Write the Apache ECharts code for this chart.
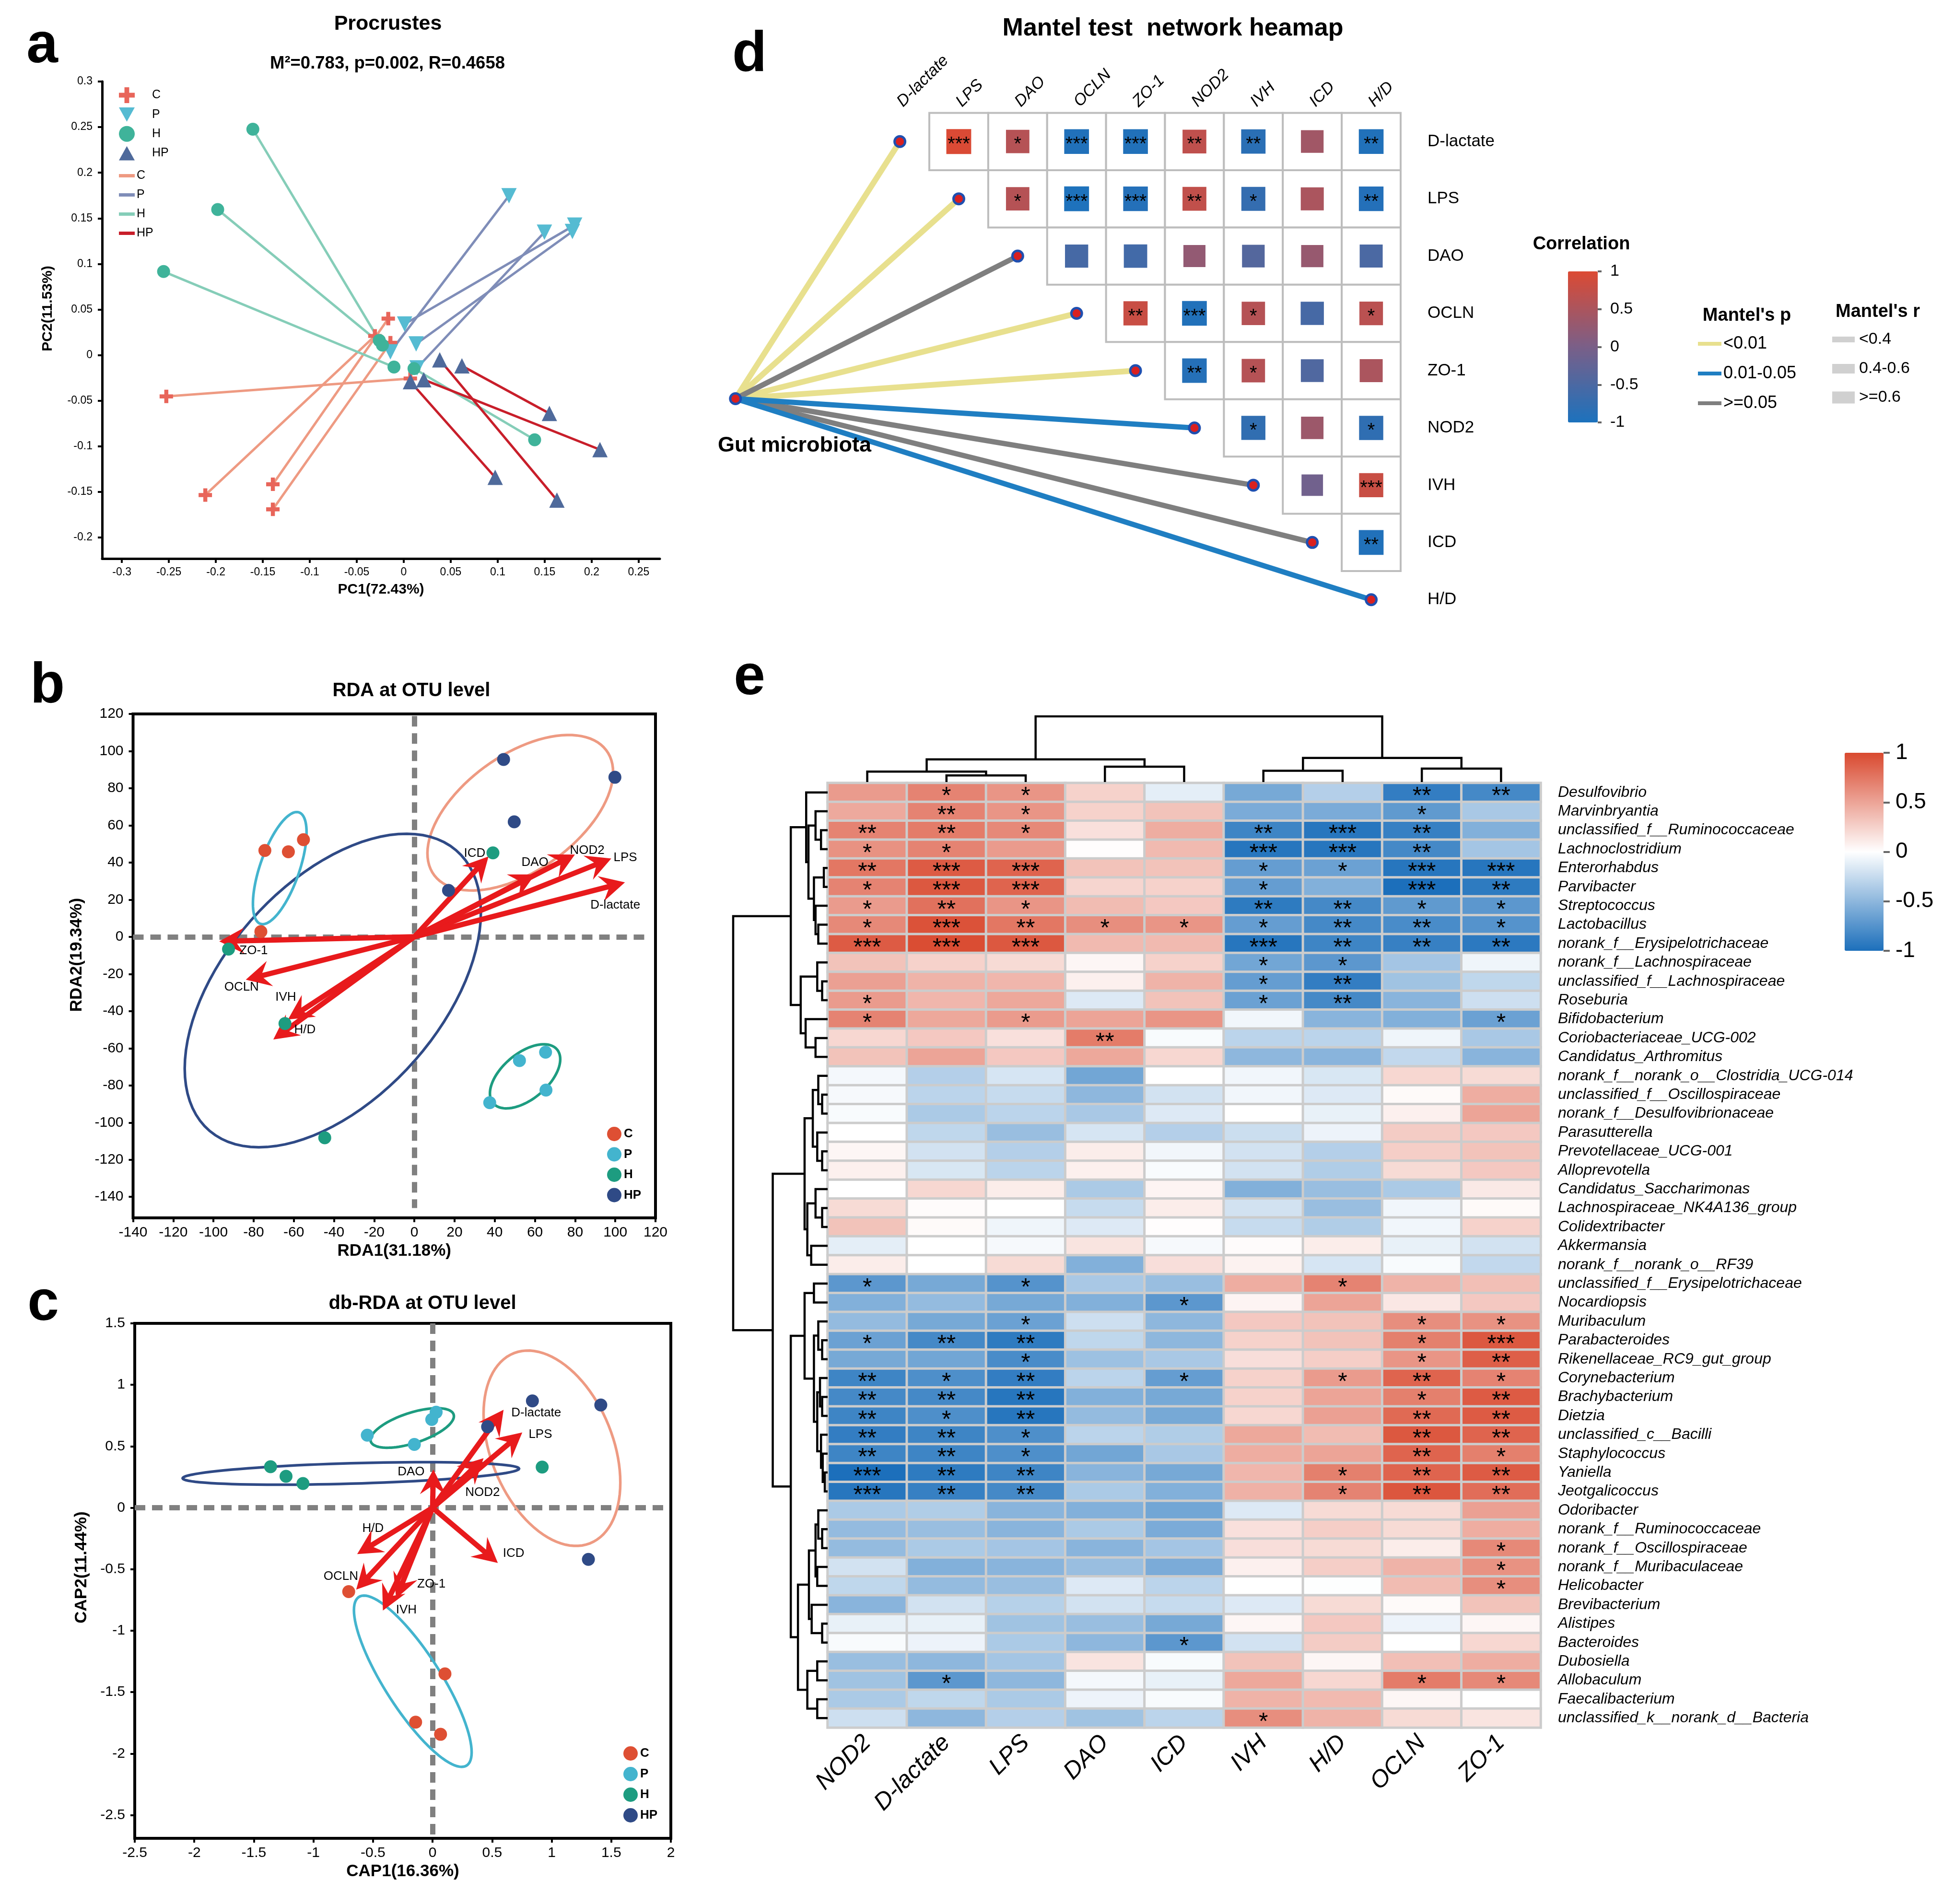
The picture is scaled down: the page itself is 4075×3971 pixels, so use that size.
<!DOCTYPE html>
<html><head><meta charset="utf-8">
<style>html,body{margin:0;padding:0;background:#fff}#c{width:4075px;height:3971px}</style>
<script src="https://cdn.jsdelivr.net/npm/echarts@6/dist/echarts.min.js"></script>
</head><body><div id="c"></div>
<script>
// ---------- Panel a: Procrustes ----------
const procCFar=[[-0.2527,-0.0453],[-0.2112,-0.1535],[-0.1393,-0.1417],[-0.1393,-0.1692]];
const procCNear=[[0.007,-0.0257],[-0.0307,0.021],[-0.0165,0.040],[-0.0142,0.0135]];
const procPFar=[[0.112,0.1747],[0.1497,0.1347],[0.1819,0.1425],[0.1795,0.1355]];
const procPNear=[[-0.0142,0.0035],[0.0142,-0.014],[0.0009,0.034],[0.0132,0.0122]];
const procHFar=[[-0.1606,0.2477],[-0.198,0.1596],[-0.2556,0.0916],[0.1393,-0.0929]];
const procHNear=[[-0.026,0.016],[-0.0227,0.0109],[-0.0104,-0.0131],[0.0109,-0.0148]];
const procHPFar=[[0.155,-0.064],[0.2088,-0.1037],[0.0973,-0.1341],[0.163,-0.159]];
const procHPNear=[[0.0619,-0.0118],[0.0213,-0.027],[0.0071,-0.0292],[0.0383,-0.0052]];
const procXTicks=[-0.3,-0.25,-0.2,-0.15,-0.1,-0.05,0,0.05,0.1,0.15,0.2,0.25];
const procYTicks=[-0.2,-0.15,-0.1,-0.05,0,0.05,0.1,0.15,0.2,0.25,0.3];
// ---------- Panel b: RDA ----------
const envNames=['D-lactate','LPS','DAO','OCLN','ZO-1','NOD2','IVH','ICD','H/D'];
const rdaC=[[-74.4,46.5],[-62.7,45.8],[-55.2,52.3],[-76.4,2.8]];
const rdaP=[[65.3,-62.1],[52.3,-66.6],[65.5,-82.5],[37.5,-89.3]];
const rdaH=[[39.1,45.2],[-92.5,-6.6],[-64.4,-46.7],[-44.6,-108.2]];
const rdaHP=[[44.4,95.5],[99.8,85.9],[49.7,61.9],[17,25]];
const rdaArrows=[[104.8,29.3],[98,42.2],[60,33.6],[-83.9,-23.1],[-97.1,-2.4],[79.9,44.3],[-62.9,-44.5],[36.9,43.3],[-70.2,-55.3]];
const rdaLabels=[[100,17],[105,42.5],[60,40],[-86,-27],[-80,-7.5],[86,46.5],[-64,-32.5],[30,45],[-54.5,-50]];
const rdaEllipses=[[52.7,66.8,41.5,35.3,-20.3,22.5],[-40.6,-28.9,73.7,42,0,-73.2],[-67,37,13.35,19.2,0,-23.3],[55.1,-75.1,17.5,9.2,0,-14.6]];
const rdaAxisLines=[[[-140,0],[115,0]],[[0,118.9],[0,-146]]];
const rdaTicks=[-140,-120,-100,-80,-60,-40,-20,0,20,40,60,80,100,120];
// ---------- Panel c: db-RDA ----------
const capC=[[-0.704,-0.682],[0.104,-1.351],[-0.142,-1.744],[0.067,-1.843]];
const capP=[[0.03,0.777],[-0.007,0.718],[-0.548,0.59],[-0.153,0.515]];
const capH=[[-1.36,0.334],[-1.23,0.256],[-1.088,0.197],[0.92,0.331]];
const capHP=[[0.838,0.869],[1.412,0.836],[0.462,0.659],[1.308,-0.42]];
const capArrows=[[0.596,0.797],[0.753,0.613],[0.007,0.311],[-0.641,-0.666],[-0.306,-0.738],[0.428,0.403],[-0.417,-0.836],[0.548,-0.449],[-0.633,-0.377]];
const capLabels=[[0.87,0.77],[0.905,0.595],[-0.18,0.29],[-0.77,-0.56],[-0.01,-0.62],[0.42,0.125],[-0.22,-0.83],[0.68,-0.37],[-0.5,-0.17]];
const capEllipses=[[1.002,0.484,0.574,-0.279,0,-0.744],[-0.686,0.279,1.412,0.039,0,-0.083],[-0.166,-1.411,0.494,-0.578,0,-0.389],[-0.171,0.649,0.35,0.096,0,-0.129]];
const capAxisLines=[[[-2.5,0],[1.956,0]],[[0,1.5],[0,-2.68]]];
const capXTicks=[-2.5,-2,-1.5,-1,-0.5,0,0.5,1,1.5,2];
const capYTicks=[-2.5,-2,-1.5,-1,-0.5,0,0.5,1,1.5];
// ---------- Panel d: Mantel ----------
const mantelValues=[
 [.98,.6,-.95,-.95,.7,-.85,.4,-.95],
 [.6,-.98,-.92,.72,-.75,.5,-.92],
 [-.55,-.6,.25,-.4,.3,-.5],
 [.8,-.95,.6,-.55,.65],
 [-.9,.6,-.45,.5],
 [-.78,.35,-.8],
 [-.1,.8],
 [-.95]];
const mantelStars=[['***','*','***','***','**','**','','**'],['*','***','***','**','*','','**'],['','','','','',''],['**','***','*','','*'],['**','*','',''],['*','','*'],['','***'],['**']];
const mantelRoot=[-2.79,4.49];
const linkYellow=['D-lactate','LPS','OCLN','ZO-1'];
const linkBlue=['NOD2','H/D'];
const linkGray=['DAO','IVH','ICD'];
const colorTicks=[-1,-0.5,0,0.5,1];
// ---------- Panel e: heatmap ----------
const heatCols=['NOD2','D-lactate','LPS','DAO','ICD','IVH','H/D','OCLN','ZO-1'];
const taxa=['Desulfovibrio','Marvinbryantia','unclassified_f__Ruminococcaceae','Lachnoclostridium','Enterorhabdus','Parvibacter','Streptococcus','Lactobacillus','norank_f__Erysipelotrichaceae','norank_f__Lachnospiraceae','unclassified_f__Lachnospiraceae','Roseburia','Bifidobacterium','Coriobacteriaceae_UCG-002','Candidatus_Arthromitus','norank_f__norank_o__Clostridia_UCG-014','unclassified_f__Oscillospiraceae','norank_f__Desulfovibrionaceae','Parasutterella','Prevotellaceae_UCG-001','Alloprevotella','Candidatus_Saccharimonas','Lachnospiraceae_NK4A136_group','Colidextribacter','Akkermansia','norank_f__norank_o__RF39','unclassified_f__Erysipelotrichaceae','Nocardiopsis','Muribaculum','Parabacteroides','Rikenellaceae_RC9_gut_group','Corynebacterium','Brachybacterium','Dietzia','unclassified_c__Bacilli','Staphylococcus','Yaniella','Jeotgalicoccus','Odoribacter','norank_f__Ruminococcaceae','norank_f__Oscillospiraceae','norank_f__Muribaculaceae','Helicobacter','Brevibacterium','Alistipes','Bacteroides','Dubosiella','Allobaculum','Faecalibacterium','unclassified_k__norank_d__Bacteria'];
const heatValues=[
[.55,.68,.58,.25,-.12,-.6,-.33,-.9,-.82],
[.47,.68,.58,.25,.33,-.58,-.58,-.7,-.38],
[.68,.72,.65,.17,.45,-.85,-.95,-.88,-.55],
[.6,.68,.55,.01,.38,-.95,-.95,-.82,-.4],
[.75,.9,.85,.33,.33,-.68,-.65,-.95,-.95],
[.68,.92,.85,.23,.25,-.68,-.55,-1,-.92],
[.55,.78,.58,.37,.3,-.92,-.82,-.7,-.72],
[.65,.95,.75,.62,.58,-.68,-.82,-.8,-.75],
[.9,.98,.92,.38,.38,-.95,-.85,-.88,-.93],
[.33,.25,.2,.05,.25,-.62,-.72,-.4,-.07],
[.52,.42,.4,.08,.42,-.68,-.9,-.42,-.28],
[.55,.4,.48,-.15,.33,-.65,-.82,-.52,-.22],
[.68,.48,.55,.5,.58,-.06,-.52,-.55,-.65],
[.22,.3,.17,.72,-.03,-.3,-.3,-.07,-.38],
[.33,.5,.3,.48,.22,-.5,-.52,-.27,-.52],
[-.05,-.33,-.18,-.62,0,-.06,-.17,.22,.2],
[-.04,-.3,-.25,-.5,-.2,-.06,-.15,.03,.45],
[-.03,-.37,-.3,-.38,-.15,0,-.1,.08,.5],
[0,-.28,-.45,-.18,-.33,-.23,-.08,.28,.3],
[.05,-.2,-.33,.1,-.06,-.2,-.33,.27,.33],
[.08,-.17,-.3,.08,-.03,-.2,-.35,.2,.3],
[0,.22,.1,-.37,.06,-.55,-.45,-.37,.12],
[.2,.02,0,-.25,.1,-.2,-.45,-.06,.03],
[.33,.03,-.07,-.15,.01,-.25,-.35,-.06,.25],
[-.12,0,-.04,.15,-.04,.02,.1,-.1,-.2],
[.1,0,.2,-.55,.18,.07,-.18,-.03,-.27],
[-.72,-.6,-.75,-.38,-.45,.45,.68,.42,.35],
[-.55,-.47,-.6,-.55,-.72,.06,.5,.13,.3],
[-.47,-.6,-.65,-.22,-.5,.3,.33,.62,.6],
[-.65,-.82,-.92,-.28,-.5,.25,.33,.7,.92],
[-.6,-.62,-.8,-.43,-.38,.18,.27,.58,.88],
[-.85,-.78,-.9,-.3,-.68,.25,.55,.85,.68],
[-.82,-.82,-.95,-.55,-.6,.25,.5,.7,.9],
[-.85,-.78,-.95,-.47,-.6,.22,.52,.82,.9],
[-.9,-.85,-.78,-.3,-.35,.48,.37,.92,.85],
[-.85,-.85,-.78,-.62,-.38,.45,.5,.85,.7],
[-1,-.92,-.85,-.52,-.6,.4,.7,.85,.9],
[-.95,-.88,-.82,-.37,-.55,.43,.68,.93,.8],
[-.37,-.35,-.52,-.55,-.62,-.15,.2,.2,.52],
[-.47,-.45,-.52,-.37,-.58,.17,.27,.2,.45],
[-.47,-.37,-.4,-.52,-.4,.18,.2,.1,.65],
[-.2,-.55,-.52,-.45,-.58,.08,.27,.42,.6],
[-.28,-.47,-.45,-.15,-.3,0,-.01,.37,.62],
[-.52,-.2,-.32,-.2,-.25,-.15,.2,.03,.33],
[-.1,-.1,-.42,-.45,-.6,.05,.3,-.08,.05],
[-.03,-.08,-.37,-.5,-.72,-.2,.28,0,.22],
[-.45,-.5,-.4,.15,-.03,.33,.05,.35,.45],
[-.42,-.72,-.5,-.05,-.1,.48,.22,.72,.65],
[-.37,-.28,-.37,-.08,-.03,.42,.38,.05,0],
[-.22,-.5,-.33,-.42,-.3,.62,.42,.2,.15]];
const heatStars=['011000022','021000010','221002320','110003320','233001133','133001032','121002211','132111221','333003222','000001100','000001200','100001200','101000001','000200000','000000000','000000000','000000000','000000000','000000000','000000000','000000000','000000000','000000000','000000000','000000000','000000000','101000100','000010000','001000011','122000013','001000012','212010121','222000012','212000022','221000022','221000021','322000122','322000122','000000000','000000000','000000001','000000001','000000001','000000000','000000000','000010000','000000000','010000011','000000000','000001000'];
// Dendrograms: [height, left, right]; leaves are column / row indices
const colTree=[1,[.344,[.158,0,[.1,1,2]],[.233,3,4]],[.367,[.172,5,6],[.205,7,8]]];
const rowTreeA=[.39,[.227,0,[.203,[.128,1,[.07,2,3]],[.145,[.04,4,5],[.128,6,[.099,7,8]]]]],[.285,[.11,9,[.058,10,11]],[.233,12,[.128,13,14]]]];
const rowTreeB1=[.244,[.157,[.099,15,[.058,16,17]],[.11,18,[.058,19,20]]],[.215,[.128,21,[.058,22,23]],[.174,24,25]]];
const rowTreeB2=[.39,[.244,[.145,26,27],[.145,[.099,28,[.058,29,30]],[.11,[.081,31,[.058,32,33]],[.07,34,[.052,35,[.03,36,37]]]]]],[.314,[.198,[.128,[.099,38,[.058,39,40]],[.11,41,42]],[.169,43,[.058,44,45]]],[.215,[.11,46,47],[.11,48,49]]]];
const rowTree=[1,rowTreeA,[.581,rowTreeB1,rowTreeB2]];

// ---------- styling ----------
const FONT='"Liberation Sans",Arial,sans-serif';
const col={C:'#DE4F33',P:'#43B4CE',H:'#1D9C80',HP:'#2F4A86',salmon:'#EE9A82',red:'#E81A1C'};
const SYM_CROSS='path://M35 0H65V35H100V65H65V100H35V65H0V35H35Z';
const SYM_DOWN='path://M0 0H100L50 90Z';
const SYM_UP='path://M50 0L100 90H0Z';

function txt(text,x,y,size,opt={}){return {type:'text',x,y,z:50,rotation:opt.rotation||0,style:{text,fill:'#000',
  font:`${opt.italic?'italic ':''}${opt.bold?'bold ':''}${size}px ${FONT}`,
  align:opt.align||'center',verticalAlign:'middle',textAlign:opt.align||'center',textVerticalAlign:'middle'}};}
function valAxis(gridIndex,min,max,ticks,o={}){
  return Object.assign({type:'value',gridIndex,min,max,splitLine:{show:false},
    axisLine:{show:o.line!==false,onZero:false,lineStyle:{color:o.lineColor||'#000',width:o.lw||5}},
    axisTick:{show:o.tick!==false,inside:false,length:o.tl||9,customValues:ticks,lineStyle:{color:o.tickColor||'#000',width:o.tw||4}},
    axisLabel:{show:o.label!==false,customValues:ticks,margin:o.margin||18,fontSize:o.fs||30,color:'#000',fontFamily:FONT,
      rotate:o.rotate||0,fontStyle:o.italic?'italic':'normal',formatter:o.fmt||(v=>String(v))}},o.extra||{});
}
const nameStyle=(fs,pad)=>({fontWeight:'bold',fontSize:fs,color:'#000',fontFamily:FONT,padding:pad||0});
function hidden(gridIndex,min,max,extra){return Object.assign({type:'value',gridIndex,min,max,show:false,splitLine:{show:false}},extra||{});}

const grids=[
 {left:213,top:170,width:1163,height:995},
 {left:277.5,top:1489,width:1089.5,height:1051,show:true,borderColor:'#000',borderWidth:6},
 {left:281,top:2760,width:1118,height:1074,show:true,borderColor:'#000',borderWidth:6},
 {left:1508,top:235.5,width:1413,height:1075},
 {left:3270,top:566,width:62,height:315},
 {left:1726,top:1633,width:1487,height:1970},
 {left:1726,top:1494,width:1487,height:137},
 {left:1529,top:1633,width:197,height:1970},
 {left:3847,top:1570,width:81,height:413}
];
const xAxes=[
 valAxis(0,-0.321,0.2725,procXTicks,{fs:23,margin:17,extra:{name:'PC1(72.43%)',nameLocation:'middle',nameGap:50,nameTextStyle:nameStyle(30)}}),
 valAxis(1,-140,120,rdaTicks,{fs:30,margin:16,extra:{name:'RDA1(31.18%)',nameLocation:'middle',nameGap:52,nameTextStyle:nameStyle(35)}}),
 valAxis(2,-2.5,2,capXTicks,{fs:30,margin:16,extra:{name:'CAP1(16.36%)',nameLocation:'middle',nameGap:52,nameTextStyle:nameStyle(35)}}),
 valAxis(3,-3,8.5,[0,1,2,3,4,5,6,7,8],{line:false,tick:false,fs:34,rotate:-45,margin:18,italic:true,fmt:v=>envNames[v],extra:{position:'top'}}),
 hidden(4,0,1),
 {type:'category',gridIndex:5,data:heatCols,axisLine:{show:false},axisTick:{show:false},splitLine:{show:false},
   axisLabel:{interval:0,rotate:45,margin:24,fontSize:50,fontStyle:'italic',color:'#000',fontFamily:FONT}},
 hidden(6,-0.5,8.5),
 hidden(7,0,1,{inverse:true}),
 hidden(8,0,1)
];
const yAxes=[
 valAxis(0,-0.2232,0.3,procYTicks,{fs:23,margin:20,extra:{name:'PC2(11.53%)',nameLocation:'middle',nameGap:98,nameTextStyle:nameStyle(30,[0,0,0,48])}}),
 valAxis(1,-151.3,120,rdaTicks,{fs:30,margin:20,extra:{name:'RDA2(19.34%)',nameLocation:'middle',nameGap:100,nameTextStyle:nameStyle(35,[0,0,0,46])}}),
 valAxis(2,-2.689,1.5,capYTicks,{fs:30,margin:20,fmt:v=>String(v),extra:{name:'CAP2(11.44%)',nameLocation:'middle',nameGap:93,nameTextStyle:nameStyle(35,[0,0,0,56])}}),
 valAxis(3,-0.5,8.5,[0,1,2,3,4,5,6,7,8],{line:false,tick:false,fs:35,margin:56,fmt:v=>envNames[v],extra:{inverse:true,position:'right'}}),
 valAxis(4,-1,1,colorTicks,{line:false,fs:34,margin:26,tl:8,tw:4,tickColor:'#666',extra:{position:'right'}}),
 {type:'category',gridIndex:5,data:taxa,inverse:true,position:'right',axisLine:{show:false},axisTick:{show:false},splitLine:{show:false},
   axisLabel:{interval:0,margin:36,fontSize:32,fontStyle:'italic',color:'#000',fontFamily:FONT}},
 hidden(6,0,1),
 hidden(7,-0.5,49.5,{inverse:true}),
 valAxis(8,-1,1,colorTicks,{line:false,fs:46,margin:25,tl:13,tw:4,tickColor:'#666',extra:{position:'right'}})
];

const series=[];
const onGrid=i=>({xAxisIndex:i,yAxisIndex:i});
function scatter(name,data,color,size,symbol,i,extra){series.push(Object.assign({type:'scatter',name,data,symbol:symbol||'circle',symbolSize:size,itemStyle:{color,opacity:1},silent:true},onGrid(i),extra||{}));}
function segs(name,pairs,color,width,i,dash){series.push(Object.assign({type:'lines',name,coordinateSystem:'cartesian2d',polyline:false,silent:true,
   data:pairs.map(c=>({coords:c})),lineStyle:{color,width,opacity:1,curveness:0,type:dash||'solid',cap:'butt'},symbol:'none'},onGrid(i)));}
const pairUp=(a,b)=>a.map((p,k)=>[p,b[k]]);

// Panel a
scatter('C',procCFar.concat(procCNear),'#E8655A',28,SYM_CROSS,0);
scatter('P',procPFar.concat(procPNear),'#55BBD2',32,SYM_DOWN,0);
scatter('H',procHFar.concat(procHNear),'#3FB39A',27,'circle',0);
scatter('HP',procHPFar.concat(procHPNear),'#4F6A9B',32,SYM_UP,0);
segs('C ',pairUp(procCFar,procCNear),'#EE9A82',5,0);
segs('P ',pairUp(procPFar,procPNear),'#7F8DB8',5,0);
segs('H ',pairUp(procHFar,procHNear),'#85CDB8',5,0);
segs('HP ',pairUp(procHPFar,procHPNear),'#C81E2A',5,0);

// Ordination panels
function ellipseSeries(list,colors,i){
  series.push(Object.assign({type:'custom',silent:true,clip:false,data:list,renderItem(p,api){
    const v=[0,1,2,3,4,5].map(k=>api.value(k));const pts=[];
    for(let k=0;k<96;k++){const t=k/96*2*Math.PI,c=Math.cos(t),s=Math.sin(t);pts.push(api.coord([v[0]+v[2]*c+v[4]*s,v[1]+v[3]*c+v[5]*s]));}
    return {type:'polygon',shape:{points:pts},style:{fill:'none',stroke:colors[p.dataIndex],lineWidth:5.5}};
  },encode:{x:0,y:1}},onGrid(i)));
}
function arrowSeries(list,i){
  series.push(Object.assign({type:'custom',silent:true,clip:false,data:list,renderItem(p,api){
    const o=api.coord([0,0]),t=api.coord([api.value(0),api.value(1)]);
    const dx=t[0]-o[0],dy=t[1]-o[1],L=Math.hypot(dx,dy),ux=dx/L,uy=dy/L,nx=-uy,ny=ux;
    const at=(b,w)=>[t[0]-ux*b+nx*w,t[1]-uy*b+ny*w];
    return {type:'group',children:[
      {type:'line',shape:{x1:o[0],y1:o[1],x2:t[0]-ux*30,y2:t[1]-uy*30},style:{stroke:col.red,lineWidth:11}},
      {type:'polygon',shape:{points:[t,at(52,27),at(33,0),at(52,-27)]},style:{fill:col.red}}]};
  },encode:{x:0,y:1}},onGrid(i)));
}
function labelSeries(pos,i){
  series.push(Object.assign({type:'scatter',silent:true,symbolSize:2,itemStyle:{color:'rgba(0,0,0,0)'},
    data:pos.map((v,k)=>({name:envNames[k],value:v})),z:6,
    label:{show:true,position:'inside',formatter:p=>p.name,fontSize:26,color:'#000',fontFamily:FONT,opacity:1}},onGrid(i)));
}
function ordination(i,axisLines,ell,ellColors,arrows,labels,C,P,H,HP){
  segs('zero'+i,axisLines,'#808080',11,i,[22,14]);
  ellipseSeries(ell,ellColors,i);
  arrowSeries(arrows,i);
  labelSeries(labels,i);
  scatter('C',C,col.C,27,'circle',i);scatter('P',P,col.P,27,'circle',i);
  scatter('H',H,col.H,27,'circle',i);scatter('HP',HP,col.HP,27,'circle',i);
}
ordination(1,rdaAxisLines,rdaEllipses,[col.salmon,col.HP,col.P,col.H],rdaArrows,rdaLabels,rdaC,rdaP,rdaH,rdaHP);
ordination(2,capAxisLines,capEllipses,[col.salmon,col.HP,col.P,col.H],capArrows,capLabels,capC,capP,capH,capHP);

// Panel d
const linkOf=names=>names.map(n=>{const k=envNames.indexOf(n);return [mantelRoot,[k,k]];});
segs('<0.01',linkOf(linkYellow),'#E8E08E',12,3);
segs('>=0.05',linkOf(linkGray),'#7F7F7F',11,3);
segs('0.01-0.05',linkOf(linkBlue),'#1F7EC2',11,3);
const mantelData=[];const mantelStarList=[];
mantelValues.forEach((row,r)=>row.forEach((v,k)=>{mantelData.push([r+k+1,r,v]);mantelStarList.push(mantelStars[r][k]);}));
const mantelIdx=series.length;
series.push(Object.assign({type:'custom',silent:true,data:mantelData,encode:{x:0,y:1},renderItem(p,api){
  const c=api.coord([api.value(0),api.value(1)]),s=api.size([1,1]),v=api.value(2);
  const w=44+8*Math.abs(v);
  return {type:'group',children:[
    {type:'rect',shape:{x:c[0]-s[0]/2,y:c[1]-s[1]/2,width:s[0],height:s[1]},style:{fill:'#fff',stroke:'#BDBDBD',lineWidth:4}},
    {type:'rect',shape:{x:c[0]-w/2,y:c[1]-w/2,width:w,height:w},style:{fill:api.visual('color')}},
    {type:'text',x:c[0],y:c[1]+7,z2:5,style:{text:mantelStarList[p.dataIndex],fill:'#000',font:`40px ${FONT}`,align:'center',verticalAlign:'middle',textAlign:'center',textVerticalAlign:'middle'}}
  ]};
}},onGrid(3)));
scatter('node',envNames.map((n,k)=>[k,k]).concat([mantelRoot]),'#D92020',22,'circle',3,{itemStyle:{color:'#D92020',borderColor:'#1F4FB0',borderWidth:5,opacity:1}});

// Panel e
const heatData=[];
heatValues.forEach((row,r)=>row.forEach((v,k)=>heatData.push([k,r,v])));
const heatIdx=series.length;
series.push({type:'heatmap',silent:true,xAxisIndex:5,yAxisIndex:5,data:heatData,
  itemStyle:{borderColor:'#CCCCCC',borderWidth:5},
  label:{show:true,fontSize:50,color:'#000',fontFamily:FONT,offset:[0,10],
    formatter:p=>'*'.repeat(+heatStars[p.data[1]][p.data[0]])}});
function dendro(tree,seg){
  if(typeof tree==='number')return {pos:tree,h:0};
  const a=dendro(tree[1],seg),b=dendro(tree[2],seg);
  seg.push([[a.pos,a.h],[a.pos,tree[0]],[b.pos,tree[0]],[b.pos,b.h]]);
  return {pos:(a.pos+b.pos)/2,h:tree[0]};
}
const colSeg=[],rowSeg=[];dendro(colTree,colSeg);dendro(rowTree,rowSeg);
series.push({type:'lines',coordinateSystem:'cartesian2d',polyline:true,silent:true,xAxisIndex:6,yAxisIndex:6,symbol:'none',
  data:colSeg.map(c=>({coords:c})),lineStyle:{color:'#000',width:4.5,opacity:1,curveness:0}});
series.push({type:'lines',coordinateSystem:'cartesian2d',polyline:true,silent:true,xAxisIndex:7,yAxisIndex:7,symbol:'none',
  data:rowSeg.map(c=>({coords:c.map(q=>[q[1],q[0]])})),lineStyle:{color:'#000',width:4.5,opacity:1,curveness:0}});

const groupLegend=(left,top,gap)=>({left,top,orient:'vertical',itemWidth:30,itemHeight:30,itemGap:gap,padding:0,selectedMode:false,
  textStyle:{fontSize:26,fontWeight:'bold',color:'#000',fontFamily:FONT},
  data:[['C',col.C],['P',col.P],['H',col.H],['HP',col.HP]].map(([name,color])=>({name,icon:'circle',itemStyle:{color}}))});
const legends=[
 {left:248,top:182,orient:'vertical',itemWidth:33,itemHeight:33,itemGap:9,padding:0,selectedMode:false,
  textStyle:{fontSize:25,color:'#000',fontFamily:FONT,padding:[0,0,0,31]},
  data:[{name:'C',icon:SYM_CROSS,itemStyle:{color:'#E8655A'}},{name:'P',icon:SYM_DOWN,itemStyle:{color:'#55BBD2'}},{name:'H',icon:'circle',itemStyle:{color:'#3FB39A'}},{name:'HP',icon:SYM_UP,itemStyle:{color:'#4F6A9B'}}]},
 {left:248,top:354,orient:'vertical',itemWidth:31,itemHeight:5,itemGap:15,padding:0,selectedMode:false,
  textStyle:{fontSize:25,color:'#000',fontFamily:FONT},
  data:[{name:'C ',icon:'rect',itemStyle:{color:'#EE9A82'}},{name:'P ',icon:'rect',itemStyle:{color:'#7F8DB8'}},{name:'H ',icon:'rect',itemStyle:{color:'#85CDB8'}},{name:'HP ',icon:'rect',itemStyle:{color:'#C81E2A'}}]},
 groupLegend(1266,2350,12.5),
 groupLegend(1300,3642,13),
 {left:3541,top:699,orient:'vertical',itemWidth:47,itemHeight:6,itemGap:26,padding:0,selectedMode:false,
  textStyle:{fontSize:36,color:'#000',fontFamily:FONT},
  data:[{name:'<0.01',icon:'rect',itemStyle:{color:'#E8E08E'}},{name:'0.01-0.05',icon:'rect',itemStyle:{color:'#1F7EC2'}},{name:'>=0.05',icon:'rect',itemStyle:{color:'#7F7F7F'}}]}
];
const visualMaps=[
 {type:'continuous',seriesIndex:mantelIdx,dimension:2,min:-1,max:1,left:3270,top:566,itemWidth:62,itemHeight:315,padding:0,showLabel:false,calculable:false,realtime:false,hoverLink:false,text:null,
   inRange:{color:['#1C72BD','#7A5F88','#DC4A33']}},
 {type:'continuous',seriesIndex:heatIdx,dimension:2,min:-1,max:1,left:3847,top:1570,itemWidth:81,itemHeight:413,padding:0,showLabel:false,calculable:false,realtime:false,hoverLink:false,text:null,
   inRange:{color:['#1C6FBB','#FFFFFF','#D9492F']}}
];
const rRect=(y,h)=>({type:'rect',shape:{x:3821,y:y-h/2,width:47,height:h},style:{fill:'#D0D0D0'},z:50});
const graphics=[
 txt('a',88,97,118,{bold:true}),txt('b',99,1432,118,{bold:true}),txt('c',90,2720,118,{bold:true}),txt('d',1563,115,118,{bold:true}),txt('e',1563,1415,118,{bold:true}),
 txt('Procrustes',809,50,43,{bold:true}),txt('M²=0.783, p=0.002, R=0.4658',808,133,36.5,{bold:true}),
 txt('RDA at OTU level',858,1441,40,{bold:true}),txt('db-RDA at OTU level',881,2719,40,{bold:true}),
 txt('Mantel test  network heamap',2446,60,52,{bold:true}),
 txt('Gut microbiota',1497,930,45,{bold:true,align:'left'}),
 txt('Correlation',3298,510,38,{bold:true}),txt("Mantel's p",3643,659,38,{bold:true}),txt("Mantel's r",3916,651,38,{bold:true}),
 rRect(708,12),rRect(769,20),rRect(829,25),
 txt('<0.4',3877,708,34,{align:'left'}),txt('0.4-0.6',3877,769,34,{align:'left'}),txt('>=0.6',3877,829,34,{align:'left'})
];
const chart=echarts.init(document.getElementById('c'),null,{width:4075,height:3971,renderer:'canvas'});
chart.setOption({animation:false,backgroundColor:'#fff',textStyle:{fontFamily:FONT},grid:grids,xAxis:xAxes,yAxis:yAxes,series,legend:legends,visualMap:visualMaps,graphic:graphics,tooltip:{show:false}});
</script></body></html>
